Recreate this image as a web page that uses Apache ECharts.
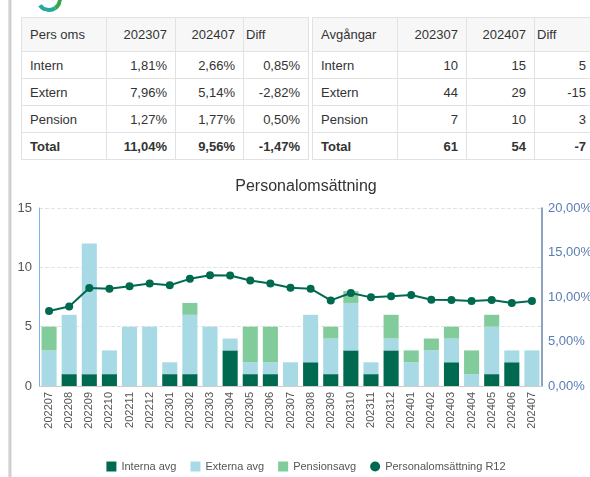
<!DOCTYPE html>
<html>
<head>
<meta charset="utf-8">
<script src="https://cdn.jsdelivr.net/npm/echarts@6/dist/echarts.min.js"></script>
<style>
  html, body { margin: 0; padding: 0; width: 590px; height: 477px; overflow: hidden; background: #fff; font-family: "Liberation Sans", Arial, sans-serif; }
  .edge { position: absolute; left: 8px; top: 0; width: 4px; height: 477px; background: linear-gradient(to right, #e6e6e6, #c9c9c9 70%, #fff); }
  .logo { position: absolute; left: 36px; top: -14px; width: 18px; height: 18px; border-radius: 50%; border: 4px solid transparent; border-bottom-color: #27a9a0; border-right-color: #3aa648; transform: rotate(10deg); }
  table { position: absolute; top: 17px; border-collapse: collapse; font-size: 13px; color: #333; table-layout: fixed; }
  td { border: 1px solid #e2e2e2; padding: 0 8px; white-space: nowrap; }
  tr.head td { background: #f7f7f7; height: 33px; }
  tr.body td { height: 26px; }
  td.num { text-align: right; }
  td.diffh { padding-left: 2px; }
  tr.total td { font-weight: bold; }
  #chart { position: absolute; left: 10px; top: 168px; width: 592px; height: 309px; }
</style>
</head>
<body>
<div class="edge"></div>
<div class="logo"></div>
<table id="t1" style="left:21px; width:287px;"></table>
<table id="t2" style="left:312px; width:282px;"></table>
<div id="chart"></div>
<script>
// tabeller
var omsHeader = ['Pers oms', '202307', '202407', 'Diff'];
var omsRows = [
  ['Intern', '1,81%', '2,66%', '0,85%'],
  ['Extern', '7,96%', '5,14%', '-2,82%'],
  ['Pension', '1,27%', '1,77%', '0,50%'],
  ['Total', '11,04%', '9,56%', '-1,47%']
];
var avgHeader = ['Avgångar', '202307', '202407', 'Diff'];
var avgRows = [
  ['Intern', '10', '15', '5'],
  ['Extern', '44', '29', '-15'],
  ['Pension', '7', '10', '3'],
  ['Total', '61', '54', '-7']
];

// diagramdata
var months = ['202207','202208','202209','202210','202211','202212','202301','202302','202303','202304','202305','202306','202307',
              '202308','202309','202310','202311','202312','202401','202402','202403','202404','202405','202406','202407'];
var interna = [0,1,1,1,0,0,1,1,0,3,1,1,0, 2,1,3,1,3,0,0,2,0,1,2,0];
var externa = [3,5,11,2,5,5,1,5,5,1,1,1,2, 4,3,4,1,1,2,3,2,1,4,1,3];
var pension = [2,0,0,0,0,0,0,1,0,0,3,3,0, 0,1,1,0,2,1,1,1,2,1,0,0];
var r12 = [8.42,8.94,11.02,10.94,11.21,11.51,11.32,12.04,12.45,12.42,11.85,11.51,11.04,
           10.94,9.62,10.45,9.96,10.08,10.23,9.70,9.66,9.55,9.66,9.32,9.56];

function buildTable(id, header, rows, widths) {
  var html = '<colgroup>' + widths.map(function (w) { return '<col style="width:' + w + 'px">'; }).join('') + '</colgroup>';
  html += '<tr class="head">' + header.map(function (h, i) {
    var cls = i === 0 ? '' : (i === 3 ? 'diffh' : 'num');
    return '<td class="' + cls + '">' + h + '</td>';
  }).join('') + '</tr>';
  rows.forEach(function (r, ri) {
    html += '<tr class="body' + (ri === rows.length - 1 ? ' total' : '') + '">' + r.map(function (c, i) {
      return '<td class="' + (i === 0 ? '' : 'num') + '">' + c + '</td>';
    }).join('') + '</tr>';
  });
  document.getElementById(id).innerHTML = html;
}
buildTable('t1', omsHeader, omsRows, [85, 69, 68, 65]);
buildTable('t2', avgHeader, avgRows, [85, 69, 68, 60]);

var pct = function (v) { return v.toFixed(2).replace('.', ',') + '%'; };

var myChart = echarts.init(document.getElementById('chart'));
myChart.setOption({
  animation: false,
  title: {
    text: 'Personalomsättning',
    left: 'center',
    top: 6,
    textStyle: { fontSize: 16, fontWeight: 'normal', color: '#333', fontFamily: 'Liberation Sans' }
  },
  legend: {
    bottom: 0,
    left: 'center',
    itemWidth: 10,
    itemHeight: 10,
    itemGap: 14,
    textStyle: { fontSize: 11, color: '#555', fontFamily: 'Liberation Sans' },
    data: [
      { name: 'Interna avg', icon: 'rect' },
      { name: 'Externa avg', icon: 'rect' },
      { name: 'Pensionsavg', icon: 'rect' },
      { name: 'Personalomsättning R12', icon: 'circle' }
    ]
  },
  grid: { left: 29, right: 60, top: 40, bottom: 91 },
  xAxis: {
    type: 'category',
    data: months,
    axisLine: { lineStyle: { color: '#ccc' } },
    axisTick: { lineStyle: { color: '#ccc' } },
    axisLabel: { rotate: 90, fontSize: 11, color: '#555', margin: 6, interval: 0, fontFamily: 'Liberation Sans' }
  },
  yAxis: [
    {
      type: 'value', min: 0, max: 15, interval: 5,
      axisLine: { show: true, lineStyle: { color: '#7fb0f0' } },
      axisLabel: { fontSize: 13, color: '#555', margin: 7, fontFamily: 'Liberation Sans' },
      splitLine: { lineStyle: { color: '#e3e3e3', type: 'dashed' } }
    },
    {
      type: 'value', min: 0, max: 20, interval: 5,
      position: 'right',
      axisLine: { show: true, lineStyle: { color: '#6a84ad', width: 1.5 } },
      axisLabel: { fontSize: 13, color: '#5b7db5', margin: 6, formatter: pct, fontFamily: 'Liberation Sans' },
      splitLine: { show: false }
    }
  ],
  series: [
    { name: 'Interna avg', type: 'bar', stack: 'avg', barWidth: '75%', data: interna, itemStyle: { color: '#006a50' } },
    { name: 'Externa avg', type: 'bar', stack: 'avg', data: externa, itemStyle: { color: '#a8dae6' } },
    { name: 'Pensionsavg', type: 'bar', stack: 'avg', data: pension, itemStyle: { color: '#82cc9c' } },
    {
      name: 'Personalomsättning R12', type: 'line', yAxisIndex: 1, data: r12,
      symbol: 'circle', symbolSize: 8,
      lineStyle: { color: '#006a50', width: 2 },
      itemStyle: { color: '#006a50' }
    }
  ]
});
</script>
</body>
</html>
